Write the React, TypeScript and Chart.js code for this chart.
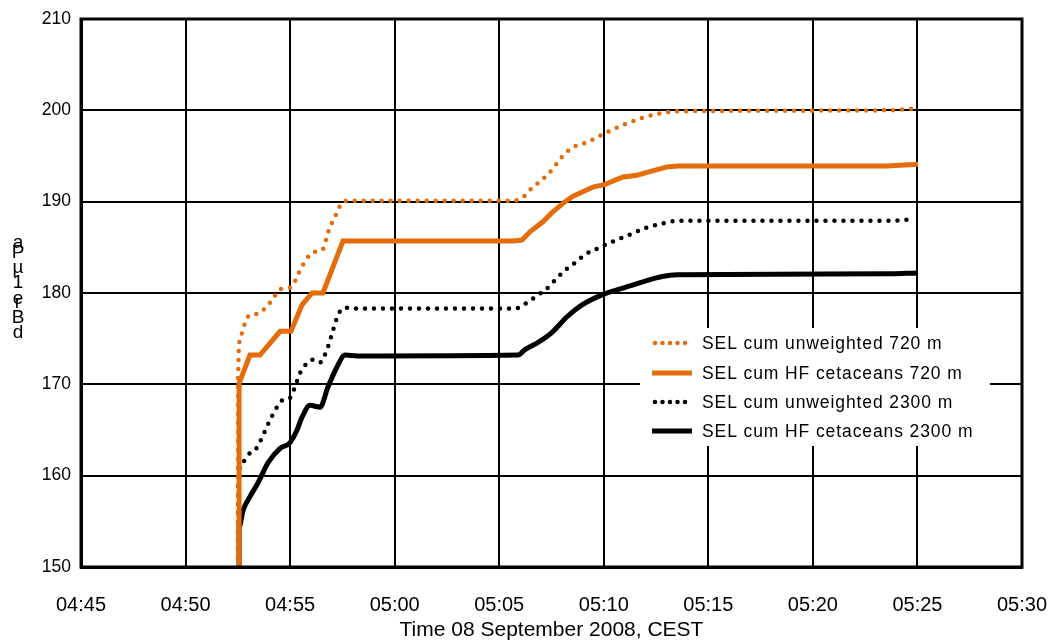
import React, { useEffect, useRef } from 'react';
import { Chart, registerables } from 'chart.js';

Chart.register(...registerables);

// ---- data (time in minutes after 04:45, level in dB) ----
const xTickLabels = ['04:45', '04:50', '04:55', '05:00', '05:05', '05:10', '05:15', '05:20', '05:25', '05:30'];
const xTitle = 'Time 08 September 2008, CEST';
const yTitle = 'dB re 1µPa';

const seriesNames = [
  'SEL cum unweighted 720 m',
  'SEL cum HF cetaceans 720 m',
  'SEL cum unweighted 2300 m',
  'SEL cum HF cetaceans 2300 m',
];

const uw720Time = [7.51, 7.51, 7.55, 7.70, 7.84, 8.08, 8.42, 8.70, 9.13, 9.52, 10.09, 10.33, 10.57, 10.95, 11.33, 11.57, 11.81, 12.24, 12.53, 13.0, 20.52, 21.09, 21.57, 22.05, 22.53, 23.0, 23.48, 24.2, 25.06, 25.92, 26.88, 27.79, 28.5, 38.69, 39.79];
const uw720Level = [150, 171.2, 174.1, 175.6, 176.7, 177.6, 177.7, 178.1, 179.2, 180.4, 180.7, 181.8, 182.9, 184.2, 184.6, 184.8, 186.6, 188.8, 190.0, 190.1, 190.1, 190.4, 191.5, 192.4, 193.5, 194.9, 195.9, 196.5, 197.5, 198.4, 199.2, 199.7, 199.9, 200.0, 200.2];

const hf720Time = [7.56, 7.56, 8.08, 8.56, 9.52, 10.04, 10.57, 11.05, 11.57, 12.53, 20.66, 21.09, 21.47, 22.09, 22.52, 23.15, 23.53, 24.49, 25.06, 25.92, 26.59, 27.07, 28.02, 28.55, 38.55, 39.17, 40.03];
const hf720Level = [150, 170.1, 173.2, 173.2, 175.8, 175.8, 178.7, 180.0, 180.0, 185.7, 185.7, 185.8, 186.7, 187.8, 188.8, 190.0, 190.6, 191.6, 191.9, 192.7, 192.9, 193.2, 193.8, 193.9, 193.9, 194.0, 194.1];

const uw2300Time = [7.51, 7.51, 7.60, 7.84, 8.08, 8.42, 8.66, 9.04, 9.37, 9.66, 9.99, 10.23, 10.47, 10.81, 11.10, 11.43, 11.76, 12.05, 12.29, 12.63, 13.2, 20.76, 21.23, 21.86, 22.19, 22.67, 23.15, 23.63, 24.10, 24.73, 25.39, 26.16, 26.97, 27.79, 28.55, 38.69, 39.79];
const uw2300Level = [150, 159.9, 161.0, 161.7, 162.5, 163.1, 164.2, 166.1, 167.5, 168.3, 168.5, 169.7, 171.2, 172.3, 172.7, 172.4, 173.8, 175.9, 177.6, 178.4, 178.3, 178.3, 178.8, 179.8, 180.3, 181.4, 182.5, 183.3, 184.2, 184.9, 185.6, 186.3, 187.1, 187.6, 187.9, 187.9, 188.1];

const hf2300Time = [7.56, 7.56, 7.75, 8.08, 8.46, 8.94, 9.52, 9.99, 10.33, 10.57, 10.95, 11.43, 11.81, 12.24, 12.63, 13.2, 20.9, 21.23, 21.86, 22.53, 23.24, 23.96, 24.92, 25.87, 26.83, 27.79, 28.5, 38.55, 40.03];
const hf2300Level = [150, 154.4, 156.2, 157.7, 159.2, 161.4, 163.0, 163.6, 165.0, 166.4, 167.7, 167.5, 169.7, 171.9, 173.2, 173.1, 173.2, 173.8, 174.6, 175.7, 177.4, 178.7, 179.8, 180.5, 181.2, 181.8, 182.0, 182.1, 182.2];

const ORANGE = '#E46C0A';
const BLACK = '#000000';

const toPoints = (t: number[], v: number[]) => t.map((x, i) => ({ x, y: v[i] }));

const FONT = "'Liberation Sans', Arial, sans-serif";

const legendPlugin = {
  id: 'insideLegend',
  afterDatasetsDraw(chart: any) {
    const ctx = chart.ctx;
    const box = { x: 640, y: 328, w: 350, h: 118 };
    ctx.save();
    ctx.fillStyle = '#ffffff';
    ctx.fillRect(box.x, box.y, box.w, box.h);
    const rowY = [343, 373, 402, 431];
    chart.data.datasets.forEach((ds: any, i: number) => {
      const y = rowY[i];
      const dotted = ds.borderDash && ds.borderDash.length;
      ctx.beginPath();
      ctx.strokeStyle = ds.borderColor;
      ctx.lineWidth = ds.borderWidth;
      ctx.lineCap = dotted ? 'round' : 'butt';
      ctx.setLineDash(dotted ? [0, 7.5] : []);
      ctx.moveTo(dotted ? 655 : 652, y);
      ctx.lineTo(692, y);
      ctx.stroke();
      ctx.setLineDash([]);
      ctx.fillStyle = '#000';
      ctx.font = `17.5px ${FONT}`;
      try { (ctx as any).letterSpacing = '0.9px'; } catch (e) { /* ignore */ }
      ctx.textBaseline = 'middle';
      ctx.textAlign = 'left';
      ctx.fillText(ds.label, 702, y + 1);
      try { (ctx as any).letterSpacing = '0px'; } catch (e) { /* ignore */ }
    });
    ctx.restore();
  },
};

const framePlugin = {
  id: 'frame',
  afterDraw(chart: any) {
    const { ctx, chartArea } = chart;
    ctx.save();
    ctx.strokeStyle = '#000';
    ctx.lineWidth = 3;
    ctx.strokeRect(chartArea.left, chartArea.top, chartArea.right - chartArea.left, chartArea.bottom - chartArea.top);
    // stacked y-axis title, as drawn in the original picture
    const chars = Array.from(yTitle.replace(/ /g, ''));
    const ys = [333, 318, 303, 299, 283, 268, 253, 243];
    ctx.fillStyle = '#000';
    ctx.font = `19px ${FONT}`;
    ctx.textAlign = 'center';
    ctx.textBaseline = 'middle';
    chars.forEach((c, i) => {
      ctx.fillText(c, 18, ys[i]);
    });
    ctx.restore();
  },
};

export default function App() {
  const ref = useRef<HTMLCanvasElement | null>(null);

  useEffect(() => {
    if (!ref.current) return;
    const chart = new Chart(ref.current, {
      type: 'line',
      data: {
        datasets: [
          {
            label: seriesNames[0],
            data: toPoints(uw720Time, uw720Level),
            borderColor: ORANGE,
            borderWidth: 4.5,
            borderDash: [0, 9],
            borderCapStyle: 'round',
            pointRadius: 0,
            cubicInterpolationMode: 'monotone',
          },
          {
            label: seriesNames[1],
            data: toPoints(hf720Time, hf720Level),
            borderColor: ORANGE,
            borderWidth: 5,
            pointRadius: 0,
            tension: 0,
          },
          {
            label: seriesNames[2],
            data: toPoints(uw2300Time, uw2300Level),
            borderColor: BLACK,
            borderWidth: 4.5,
            borderDash: [0, 9],
            borderCapStyle: 'round',
            pointRadius: 0,
            cubicInterpolationMode: 'monotone',
          },
          {
            label: seriesNames[3],
            data: toPoints(hf2300Time, hf2300Level),
            borderColor: BLACK,
            borderWidth: 5,
            pointRadius: 0,
            cubicInterpolationMode: 'monotone',
          },
        ],
      } as any,
      options: {
        animation: false,
        responsive: true,
        maintainAspectRatio: false,
        layout: { padding: { top: 19, right: 31, left: 0, bottom: 0 } },
        plugins: {
          legend: { display: false },
          tooltip: { enabled: false },
        },
        scales: {
          x: {
            type: 'linear',
            min: 0,
            max: 45,
            afterFit: (s: any) => { s.height = 75; s.paddingLeft = 0; s.paddingRight = 0; },
            ticks: {
              stepSize: 5,
              autoSkip: false,
              maxRotation: 0,
              padding: 26,
              color: '#000',
              font: { family: FONT, size: 20 },
              callback: (v: any) => xTickLabels[Math.round(Number(v) / 5)] ?? '',
            },
            grid: { color: '#000', lineWidth: 2, drawTicks: false },
            border: { color: '#000', width: 3 },
            title: {
              display: true,
              text: xTitle,
              color: '#000',
              font: { family: FONT, size: 21, lineHeight: 1.2 },
              padding: { top: 0, bottom: -1 },
            },
          },
          y: {
            type: 'linear',
            min: 150,
            max: 210,
            afterFit: (s: any) => { s.width = 81; s.paddingTop = 0; s.paddingBottom = 0; },
            ticks: {
              stepSize: 10,
              padding: 10,
              color: '#000',
              font: { family: FONT, size: 17.5 },
            },
            grid: { color: '#000', lineWidth: 2, drawTicks: false },
            border: { color: '#000', width: 3 },
          },
        },
      } as any,
      plugins: [legendPlugin, framePlugin],
    });
    return () => chart.destroy();
  }, []);

  return (
    <div style={{ position: 'fixed', left: 0, top: 0, width: 1053, height: 642, background: '#fff' }}>
      <canvas ref={ref} />
    </div>
  );
}
